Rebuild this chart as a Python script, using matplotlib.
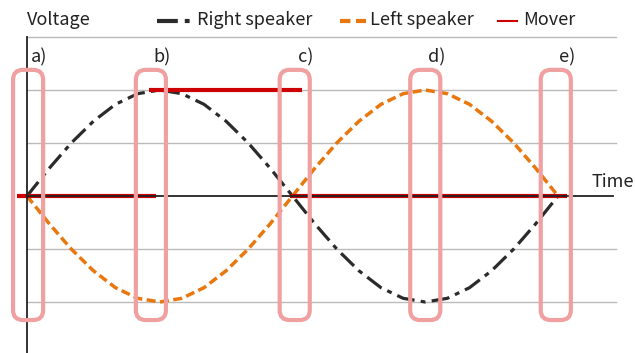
import matplotlib
matplotlib.use("Agg")
import matplotlib.pyplot as plt
from matplotlib.patches import FancyBboxPatch
from matplotlib.lines import Line2D

plt.rcParams["font.family"] = ["Noto Sans CJK JP", "DejaVu Sans"]
plt.rcParams["lines.scale_dashes"] = False

# time samples (1/24 of a period each) and voltages
t = list(range(25))
right_speaker = [0, 0.52, 1.0, 1.41, 1.73, 1.93, 2.0, 1.93, 1.73, 1.41, 1.0, 0.52, 0,
                 -0.52, -1.0, -1.41, -1.73, -1.93, -2.0, -1.93, -1.73, -1.41, -1.0, -0.52, 0]
left_speaker = [0, -0.52, -1.0, -1.41, -1.73, -1.93, -2.0, -1.93, -1.73, -1.41, -1.0, -0.52, 0,
                0.52, 1.0, 1.41, 1.73, 1.93, 2.0, 1.93, 1.73, 1.41, 1.0, 0.52, 0]

# mover segments: (t start, t end, level)
mover = [(-0.45, 5.85, 0), (5.5, 12.45, 2), (11.9, 24.4, 0)]

# highlighted moments
marks = [0.05, 5.6, 12.1, 18.0, 23.9]
mark_labels = ["a)", "b)", "c)", "d)", "e)"]

grid_levels = [3, 2, 1, -1, -2]

black = "#2b2b2b"
orange = "#e8770e"
red = "#cc0000"
pink = "#f0a0a0"
fs = 13

fig = plt.figure(figsize=(6.35, 3.53), dpi=100)
ax = fig.add_axes([0, 0, 1, 1])
ax.set_xlim(-1.22, 27.48)
ax.set_ylim(-2.962, 3.698)
ax.axis("off")

for g in grid_levels:
    ax.plot([0, 26.6], [g, g], color="#bbbbbb", lw=1.0, zorder=1)

# axes
ax.plot([0, 26.5], [0, 0], color="#222222", lw=1.3, zorder=4)
ax.plot([0, 0], [-2.962, 3], color="#222222", lw=1.3, zorder=4)

for x0, x1, lvl in mover:
    ax.plot([x0, x1], [lvl, lvl], color=red, lw=3.0, solid_capstyle="butt", zorder=3)

ax.plot(t, right_speaker, color=black, lw=2.3, dashes=(13, 4.5, 3.5, 4.5),
        dash_capstyle="butt", zorder=2)
ax.plot(t, left_speaker, color=orange, lw=2.5, dashes=(6.5, 3.2),
        dash_capstyle="butt", zorder=2)

w = 1.36
for m, lab in zip(marks, mark_labels):
    box = FancyBboxPatch((m - w / 2, -2.34), w, 4.72,
                         boxstyle="round,pad=0,rounding_size=0.45",
                         mutation_aspect=22.125 / 53,
                         fill=False, ec=pink, lw=3.0, zorder=5)
    ax.add_patch(box)
    ax.text(m + 0.5, 2.62, lab, ha="center", va="center", fontsize=fs,
            color="#222222", zorder=6)

# header labels
fig.text(27 / 635, 1 - 20 / 353, "Voltage", ha="left", va="center",
         fontsize=fs, color="#222222")
fig.text(634 / 635, 1 - 182 / 353, "Time", ha="right", va="center",
         fontsize=fs, color="#222222")

# legend drawn manually
fig.add_artist(Line2D([157 / 635, 190 / 635], [1 - 21 / 353] * 2, color=black,
                      lw=3, dashes=(15, 5, 3.5, 5), dash_capstyle="butt"))
fig.text(197 / 635, 1 - 20 / 353, "Right speaker", ha="left", va="center",
         fontsize=fs, color="#222222")
fig.add_artist(Line2D([340 / 635, 366 / 635], [1 - 21 / 353] * 2, color=orange,
                      lw=3, dashes=(7.5, 4), dash_capstyle="butt"))
fig.text(370 / 635, 1 - 20 / 353, "Left speaker", ha="left", va="center",
         fontsize=fs, color="#222222")
fig.add_artist(Line2D([498 / 635, 517 / 635], [1 - 21 / 353] * 2, color=red, lw=1.5))
fig.text(523 / 635, 1 - 20 / 353, "Mover", ha="left", va="center",
         fontsize=fs, color="#222222")

fig.savefig("out.png", dpi=100)
